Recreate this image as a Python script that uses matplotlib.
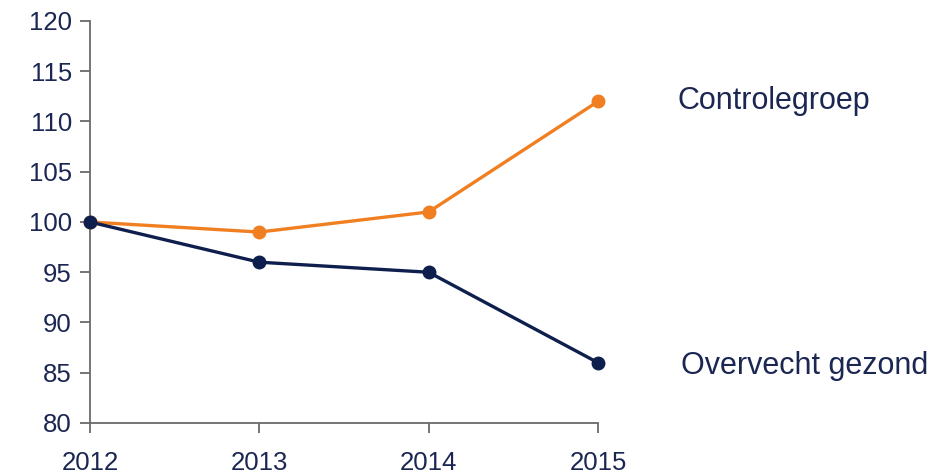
import matplotlib
matplotlib.use("Agg")
import matplotlib.pyplot as plt

years = [2012, 2013, 2014, 2015]
controle = [100, 99, 101, 112]
overvecht = [100, 96, 95, 86]
series_names = ["Controlegroep", "Overvecht gezond"]
yticks = [80, 85, 90, 95, 100, 105, 110, 115, 120]

plt.rcParams['font.family'] = ['Liberation Sans', 'DejaVu Sans']
orange = "#F07F22"
navy = "#0E1F4E"
textc = "#1B2752"
spinec = "#6A6A6A"

fig = plt.figure(figsize=(9.53, 4.74), dpi=100)
ax = fig.add_axes([0.0944, 0.1076, 0.5331, 0.8481])

ax.plot(years, controle, color=orange, lw=2.4, marker='o', ms=9, zorder=3, clip_on=False)
ax.plot(years, overvecht, color=navy, lw=2.4, marker='o', ms=9, zorder=4, clip_on=False)

ax.set_xlim(2012, 2015)
ax.set_ylim(80, 120)
ax.set_yticks(yticks)
ax.set_xticks(years)
ax.set_xticklabels([str(y) for y in years])

for s in ['top', 'right']:
    ax.spines[s].set_visible(False)
for s in ['left', 'bottom']:
    ax.spines[s].set_color(spinec)
    ax.spines[s].set_linewidth(1.3)
ax.tick_params(axis='both', colors=spinec, length=7, width=1.3, direction='out',
               labelsize=18.5, labelcolor=textc)
ax.tick_params(axis='y', pad=6)
ax.tick_params(axis='x', pad=13)

ax.text(2015.47, controle[-1], series_names[0], fontsize=22, color=textc,
        va='center', ha='left', transform=ax.transData)
ax.text(2015.49, overvecht[-1] - 0.3, series_names[1], fontsize=22, color=textc,
        va='center', ha='left', transform=ax.transData)

fig.savefig("out.png", dpi=100)
